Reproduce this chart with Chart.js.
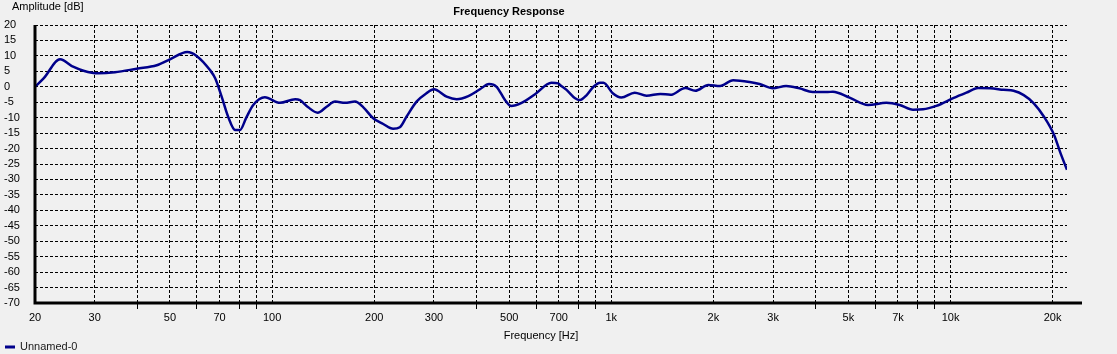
<!DOCTYPE html>
<html>
<head>
<meta charset="utf-8">
<script src="https://cdn.jsdelivr.net/npm/chart.js@4/dist/chart.umd.min.js"></script>
<style>
  html, body { margin: 0; padding: 0; background: #f0f0f0; }
  #wrap { width: 1117px; height: 354px; position: relative; }
</style>
</head>
<body>
<div id="wrap"><canvas id="frChart"></canvas></div>
<script>
// Frequency response samples (Hz / dB)
const freqHz = [20, 21.2, 23.7, 25.9, 27.8, 30.7, 34.4, 39.9, 45.7, 50, 56.2, 59.9, 65.6, 68, 71, 74.2, 77.8, 80.4, 84, 88,
  95.2, 105.5, 117, 120.8, 127.8, 136.2, 144.8, 153.4, 164, 175.6, 185.8, 198.6, 212.6, 227.4, 238, 249, 266.6, 285, 300, 327,
  350, 379, 410, 436, 459, 486, 506, 544, 596, 666, 698, 706, 738, 782, 808, 846, 886, 927, 948, 1010,
  1070, 1172, 1270, 1396, 1494, 1652, 1768, 1932, 2092, 2286, 2558, 2736, 2994, 3276, 3586, 3924, 4348, 4500, 5040, 5712,
  6470, 7080, 7752, 8300, 9080, 10180, 11140, 12060, 13080, 14340, 15340, 16440, 17600, 18860, 20200, 21100, 22050];
const ampDb = [0, 2.7, 8.9, 6.5, 5.2, 4.35, 4.7, 5.85, 6.95, 8.9, 11.25, 10, 5.4, 2.7, -3.2, -9.7, -14.0, -14.0, -9.9, -5.9,
  -3.4, -5.2, -4.0, -4.3, -6.65, -8.4, -6.45, -4.8, -5.2, -4.8, -6.65, -10.2, -12.05, -13.6, -13.1, -9.7, -4.8, -2.1, -0.8, -3.2,
  -4.0, -3.0, -0.8, 0.9, 0, -4.3, -6.2, -5.2, -2.4, 1.3, 1.1, 0.6, -1.0, -3.7, -4.3, -2.7, 0, 1.3, 1.3, -2.1,
  -3.5, -1.9, -2.9, -2.3, -2.6, -0.4, -1.3, 0.6, 0.25, 2.1, 1.55, 0.9, -0.5, 0.25, -0.5, -1.7, -1.7, -1.6, -3.5, -5.9,
  -5.2, -5.9, -7.4, -7.3, -6.2, -3.7, -1.9, -0.4, -0.5, -1.0, -1.3, -2.7, -5.35, -9.7, -15.6, -21.5, -26.9];

// Axis ticks
const xGridValues = [20, 30, 40, 50, 60, 70, 80, 90, 100, 200, 300, 400, 500, 600, 700, 800, 900,
  1000, 2000, 3000, 4000, 5000, 6000, 7000, 8000, 9000, 10000, 20000];
const xLabelValues = [20, 30, 50, 70, 100, 200, 300, 500, 700, 1000, 2000, 3000, 5000, 7000, 10000, 20000];
const xLabelTexts = ["20", "30", "50", "70", "100", "200", "300", "500", "700", "1k", "2k", "3k", "5k", "7k", "10k", "20k"];
const yMin = -70, yMax = 20, yStep = 5;
const xMin = 20, xMax = 22050;

const FONT = "'Liberation Sans', Arial, sans-serif";
const LINE_COLOR = "#00008b";

// Titles, legend and thick axis lines
const decorations = {
  id: "decorations",
  afterDraw(chart) {
    const ctx = chart.ctx;
    const area = chart.chartArea;
    ctx.save();
    ctx.strokeStyle = "#000";
    ctx.lineWidth = 3;
    ctx.beginPath();
    ctx.moveTo(area.left, area.top);
    ctx.lineTo(area.left, area.bottom);
    ctx.moveTo(area.left - 1.5, area.bottom);
    ctx.lineTo(1082, area.bottom);
    ctx.stroke();

    ctx.fillStyle = "#000";
    ctx.textBaseline = "middle";
    ctx.font = "11px " + FONT;
    ctx.textAlign = "left";
    ctx.fillText("Amplitude [dB]", 12, 7);
    ctx.textAlign = "center";
    ctx.fillText("Frequency [Hz]", 541, 336);
    ctx.font = "bold 11px " + FONT;
    ctx.fillText("Frequency Response", 509, 12);

    // legend
    ctx.strokeStyle = LINE_COLOR;
    ctx.lineWidth = 3;
    ctx.beginPath();
    ctx.moveTo(5, 347);
    ctx.lineTo(15, 347);
    ctx.stroke();
    ctx.fillStyle = "#1a1a1a";
    ctx.font = "11px " + FONT;
    ctx.textAlign = "left";
    ctx.fillText("Unnamed-0", 20, 347);
    ctx.restore();
  },
};

const ctx = document.getElementById("frChart").getContext("2d");
new Chart(ctx, {
  type: "line",
  data: {
    datasets: [
      {
        label: "Unnamed-0",
        data: freqHz.map((f, i) => ({ x: f, y: ampDb[i] })),
        borderColor: LINE_COLOR,
        borderWidth: 2.5,
        pointRadius: 0,
        cubicInterpolationMode: "monotone",
        fill: false,
      },
    ],
  },
  options: {
    responsive: true,
    maintainAspectRatio: false,
    animation: false,
    layout: { padding: { left: 4, top: 25, right: 50, bottom: 0 } },
    plugins: {
      legend: { display: false },
      title: { display: false },
      tooltip: { enabled: false },
    },
    scales: {
      x: {
        type: "logarithmic",
        min: xMin,
        max: xMax,
        afterBuildTicks: (scale) => {
          scale.ticks = xGridValues.map((v) => ({ value: v }));
        },
        afterFit: (scale) => {
          scale.height = 51;
        },
        grid: {
          color: "#000",
          lineWidth: 1,
          drawTicks: true,
          tickLength: 6,
          tickColor: (c) => (c.tick && xLabelValues.includes(c.tick.value) ? "rgba(0,0,0,0)" : "#000"),
        },
        border: { display: false, dash: [3, 2] },
        ticks: {
          autoSkip: false,
          maxRotation: 0,
          padding: 2,
          color: "#000",
          font: { family: FONT, size: 11 },
          callback: (value) => {
            const i = xLabelValues.indexOf(value);
            return i >= 0 ? xLabelTexts[i] : "";
          },
        },
      },
      y: {
        type: "linear",
        min: yMin,
        max: yMax,
        afterFit: (scale) => {
          scale.width = 31;
        },
        grid: { color: "#000", lineWidth: 1, drawTicks: false },
        border: { display: false, dash: [3, 2] },
        ticks: {
          stepSize: yStep,
          autoSkip: false,
          maxTicksLimit: 40,
          crossAlign: "far",
          padding: 0,
          color: "#000",
          font: { family: FONT, size: 11 },
        },
      },
    },
  },
  plugins: [decorations],
});
</script>
</body>
</html>
